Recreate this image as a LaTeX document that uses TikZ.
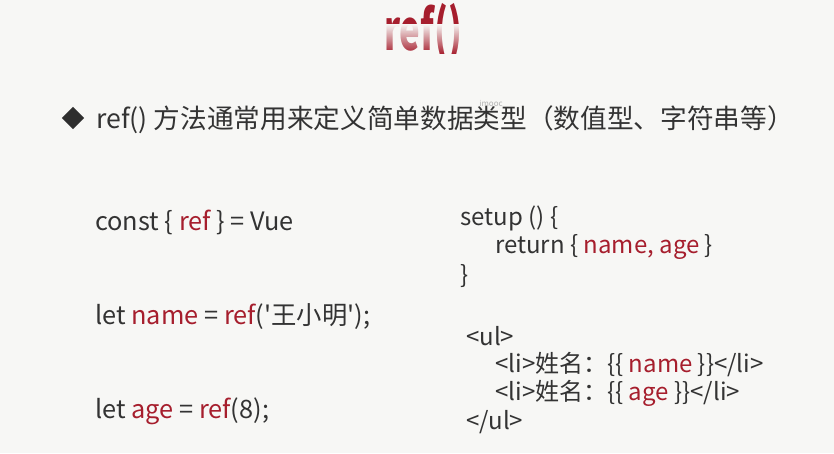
\documentclass[tikz,border=0pt]{standalone}
\usepackage{fontspec}
\setmainfont{Noto Sans CJK SC}[Ligatures=TeXOff]
\usetikzlibrary{shapes.geometric,fadings}

\definecolor{slidebg}{HTML}{F7F7F5}
\definecolor{slidetext}{HTML}{333333}
\definecolor{vuered}{HTML}{A61E2D}
\newcommand{\hl}[1]{\textcolor{vuered}{#1}}

\tikzset{
	code/.style={anchor=west, inner sep=0pt, text=slidetext, font=\fontsize{18}{21}\selectfont},
	leftcode/.style={code, font=\fontsize{19}{22}\selectfont},
	bulletmark/.style={diamond, fill=slidetext!90!black, inner sep=0pt, minimum size=17pt}
}

\begin{document}
\begin{tikzpicture}[x=0.75pt,y=-0.75pt]
		\useasboundingbox (0,0) rectangle (834,453);
		\fill[slidebg] (0,0) rectangle (834,453);
		% title, fading out towards its foot
		\node[text=vuered, font=\fontsize{42}{42}\bfseries, xscale=0.62, inner sep=0pt] (title) at (423,33) {ref()};
		\fill[slidebg, path fading=south] (360,24) rectangle (490,54);
		\fill[slidebg] (360,54) rectangle (490,70);
		% bullet line
		\node[bulletmark] (mark) at (73,118) {};
		\node[code, font=\fontsize{20}{23}\selectfont] (intro) at (96,120) {ref() 方法通常用来定义简单数据类型（数值型、字符串等）};
		\node[text=gray!60, font=\fontsize{6}{6}\selectfont, inner sep=0pt] (wm) at (491,103) {imooc};
		% left column
		\node[leftcode] (lconst) at (95,222) {const \{ \hl{ref} \} = Vue};
		\node[leftcode] (lname) at (95,317) {let \hl{name} = \hl{ref}('王小明');};
		\node[leftcode] (lage) at (95,411) {let \hl{age} = \hl{ref}(8);};
		% right column
		\node[code] (setup) at (460,218) {setup () \{};
		\node[code] (ret) at (495,247) {return \{ \hl{name, age} \}};
		\node[code] (close) at (460,276) {\}};
		\node[code] (ulopen) at (466,336) {<ul>};
		\node[code] (liname) at (495,365) {<li>姓名：\{\{ \hl{name} \}\}</li>};
		\node[code] (liage) at (495,393) {<li>姓名：\{\{ \hl{age} \}\}</li>};
		\node[code] (ulclose) at (466,422) {</ul>};
\end{tikzpicture}
\end{document}
